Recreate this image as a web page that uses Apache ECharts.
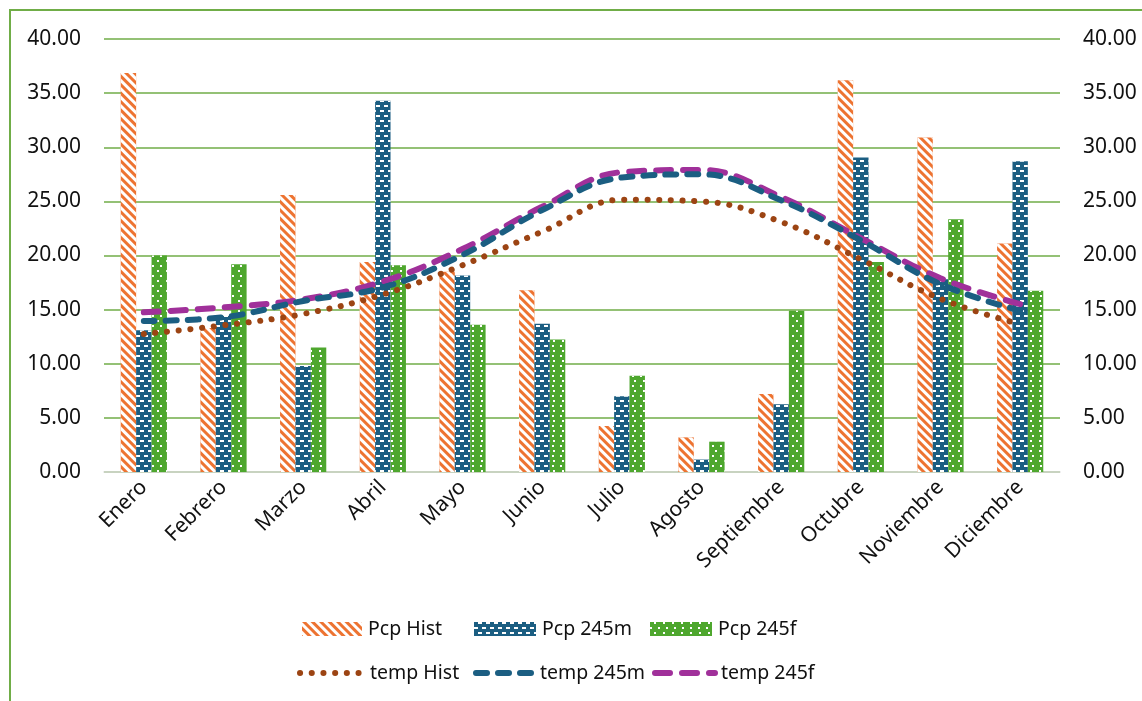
<!DOCTYPE html>
<html>
<head>
<meta charset="utf-8">
<script src="https://cdn.jsdelivr.net/npm/echarts@6/dist/echarts.min.js"></script>
<style>
  html, body { margin: 0; padding: 0; background: #fff; }
  #chart { width: 1142px; height: 701px; }
</style>
</head>
<body>
<div id="chart"></div>
<script>
// Monthly precipitation (bars) and temperature (lines), historical vs SSP2-4.5 mid / far
const months = ['Enero', 'Febrero', 'Marzo', 'Abril', 'Mayo', 'Junio', 'Julio',
  'Agosto', 'Septiembre', 'Octubre', 'Noviembre', 'Diciembre'];

const pcpHist = [36.85, 13.3, 25.6, 19.4, 18.5, 16.8, 4.25, 3.2, 7.2, 36.2, 30.9, 21.1];
const pcp245m = [13.1, 14.4, 9.8, 34.3, 18.15, 13.7, 7.0, 1.15, 6.25, 29.05, 17.8, 28.7];
const pcp245f = [20.0, 19.2, 11.5, 19.1, 13.6, 12.25, 8.9, 2.8, 14.9, 19.4, 23.35, 16.75];

const tempHist = [12.75, 13.55, 14.6, 16.4, 19.1, 22.2, 25.15, 25.0, 23.1, 19.65, 16.0, 13.65];
const temp245m = [13.95, 14.3, 15.8, 17.05, 20.05, 24.2, 27.2, 27.5, 25.1, 21.4, 17.35, 14.9];
const temp245f = [14.75, 15.2, 15.95, 17.6, 20.6, 24.5, 27.7, 27.9, 25.4, 21.6, 17.9, 15.5];

const yTicks = { min: 0, max: 40, interval: 5 };

const FONT = 'Noto Sans';
const C_ORANGE = '#ED7331';
const C_BLUE = '#1B5E82';
const C_GREEN = '#4EA72E';
const C_BROWN = '#9C4413';
const C_PURPLE = '#A0309A';
const C_GRID = '#70AD47';

// stroke styles shared by the temperature lines and their legend samples
const DOTS = { width: 6, type: [0.1, 11.6], cap: 'round' };
const DASH = { width: 6, type: [11, 11], cap: 'round' };
const LONG_DASH = { width: 6, type: [15, 12], cap: 'round' };

const chart = echarts.init(document.getElementById('chart'), null, { renderer: 'canvas' });

function yAxis(pos) {
  return {
    type: 'value', position: pos,
    min: yTicks.min, max: yTicks.max, interval: yTicks.interval,
    axisLine: { show: false }, axisTick: { show: false },
    splitLine: { show: pos === 'left', lineStyle: { color: C_GRID, width: 1.6 } },
    axisLabel: {
      margin: 23, color: '#111', fontSize: 21, fontFamily: FONT,
      formatter: v => v.toFixed(2)
    }
  };
}

function legendAt(name, left, top, w, h, stroke) {
  const lg = {
    data: [name], left: left, top: top, itemWidth: w, itemHeight: h, itemGap: 0,
    icon: stroke ? 'inherit' : 'rect',
    textStyle: { fontSize: 19.5, fontFamily: FONT, color: '#111', padding: [0, 0, 0, 1] },
    padding: 0, selectedMode: false
  };
  if (stroke) {
    // stroked line sample only, no marker on top of it
    lg.itemStyle = { opacity: 0, borderWidth: 0 };
    lg.lineStyle = Object.assign({}, stroke);
  }
  return lg;
}

const barBase = { type: 'bar', barGap: '0%', barCategoryGap: '42%', yAxisIndex: 0 };
const lineBase = { type: 'line', yAxisIndex: 1, symbol: 'none', smooth: 0.4, z: 5 };

chart.setOption({
  animation: false,
  backgroundColor: '#fff',
  graphic: [{
    type: 'rect', shape: { x: 10, y: 10, width: 1200, height: 800 },
    style: { fill: 'none', stroke: C_GRID, lineWidth: 2 }, silent: true
  }],
  grid: { left: 104, right: 82, top: 39, bottom: 229, containLabel: false },
  legend: [
    legendAt('Pcp Hist', 302, 619, 60, 14),
    legendAt('Pcp 245m', 474, 619, 62, 14),
    legendAt('Pcp 245f', 650, 619, 62, 14),
    legendAt('temp Hist', 297, 663, 64, 14, DOTS),
    legendAt('temp 245m', 473, 663, 58, 14, DASH),
    legendAt('temp 245f', 652, 663, 60, 14, LONG_DASH)
  ],
  xAxis: {
    type: 'category', data: months,
    axisLine: { lineStyle: { color: '#D9D9D9', width: 1.5 } },
    axisTick: { show: false },
    axisLabel: {
      rotate: 45, margin: 12, interval: 0,
      color: '#111', fontSize: 21, fontFamily: FONT
    }
  },
  yAxis: [yAxis('left'), yAxis('right')],
  series: [
    Object.assign({}, barBase, {
      name: 'Pcp Hist', data: pcpHist,
      itemStyle: {
        color: C_ORANGE,
        decal: {
          symbol: 'rect', symbolSize: 1, color: '#fff',
          dashArrayX: [1, 0], dashArrayY: [2.3, 2.7], rotation: Math.PI / 4
        }
      }
    }),
    Object.assign({}, barBase, {
      name: 'Pcp 245m', data: pcp245m,
      itemStyle: {
        color: C_BLUE,
        decal: {
          symbol: 'rect', symbolSize: 1, color: '#fff',
          dashArrayX: [[4, 4], [0, 4, 4, 0]], dashArrayY: [1.6, 2.8], rotation: 0
        }
      }
    }),
    Object.assign({}, barBase, {
      name: 'Pcp 245f', data: pcp245f,
      itemStyle: {
        color: C_GREEN,
        decal: {
          symbol: 'rect', symbolSize: 1, color: '#fff',
          dashArrayX: [[1.6, 6], [0, 3.8, 1.6, 2.2]], dashArrayY: [1.6, 2.4], rotation: 0
        }
      }
    }),
    Object.assign({}, lineBase, {
      name: 'temp Hist', data: tempHist, color: C_BROWN,
      lineStyle: Object.assign({ color: C_BROWN }, DOTS)
    }),
    Object.assign({}, lineBase, {
      name: 'temp 245m', data: temp245m, color: C_BLUE,
      lineStyle: Object.assign({ color: C_BLUE }, DASH)
    }),
    Object.assign({}, lineBase, {
      name: 'temp 245f', data: temp245f, color: C_PURPLE, z: 4,
      lineStyle: Object.assign({ color: C_PURPLE }, LONG_DASH)
    })
  ]
});
</script>
</body>
</html>
